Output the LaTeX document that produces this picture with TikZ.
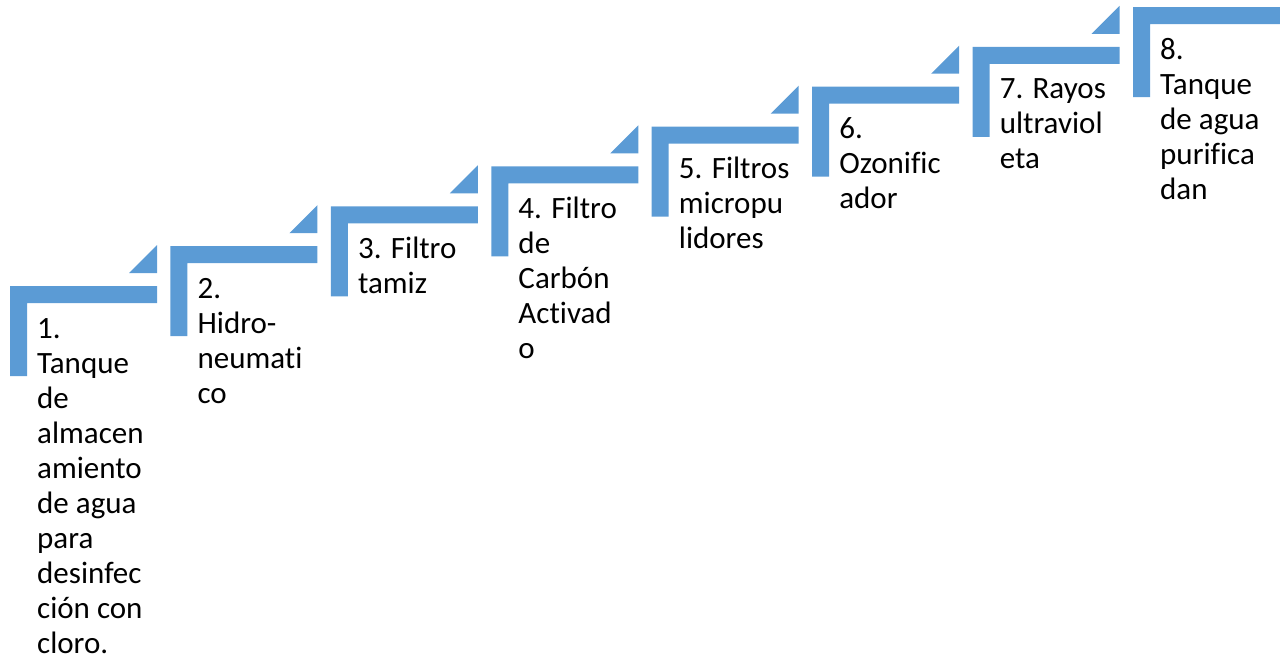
\documentclass[tikz,border=0pt]{standalone}
\usepackage{fontspec}
\setmainfont[Ligatures={NoCommon}]{Carlito}
\definecolor{stepblue}{HTML}{5B9BD5}
\tikzset{
  stepbar/.style={fill=stepblue,draw=none},
  steptext/.style={anchor=base west,align=left,inner sep=0pt,font=\fontsize{31}{35}\selectfont,text=black}
}
\begin{document}
\begin{tikzpicture}[x=1pt,y=-1pt]
\useasboundingbox (0,0) rectangle (1280,659);
\foreach \i/\n/\txt in {
  0/10/{1.\\Tanque\\de\\almacen\\amiento\\de agua\\para\\desinfec\\ción con\\cloro.},
  1/4/{2.\\Hidro-\\neumati\\co},
  2/2/{3. Filtro\\tamiz},
  3/5/{4. Filtro\\de\\Carbón\\Activad\\o},
  4/3/{5. Filtros\\micropu\\lidores},
  5/3/{6.\\Ozonific\\ador},
  6/3/{7. Rayos\\ultraviol\\eta},
  7/5/{8.\\Tanque\\de agua\\purifica\\dan}}
{
  \pgfmathsetmacro{\xo}{10+160.43*\i}
  \pgfmathsetmacro{\yo}{286-39.857*\i}
  \fill[stepbar] (\xo,\yo) -- (\xo+147,\yo) -- (\xo+147,\yo+17) -- (\xo+17,\yo+17) -- (\xo+17,\yo+90) -- (\xo,\yo+90) -- cycle;
  \ifnum\i<7
    \fill[stepbar] (\xo+119,\yo-13) -- (\xo+147,\yo-41) -- (\xo+147,\yo-13) -- cycle;
  \fi
  \node[steptext] (t\i) at (\xo+27,\yo+52+35*\n-35) {\txt};
}
\end{tikzpicture}
\end{document}
